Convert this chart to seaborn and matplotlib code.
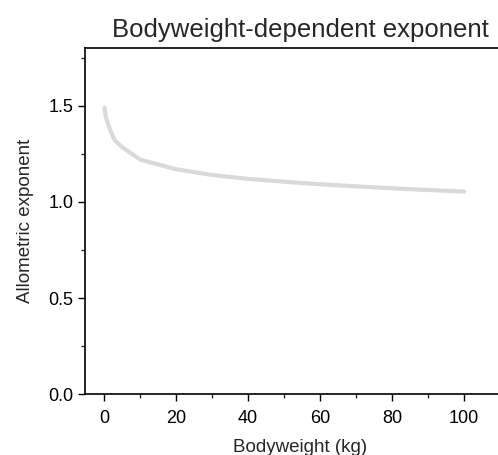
import pandas as pd
import matplotlib.pyplot as plt
import seaborn as sns
from matplotlib.ticker import MultipleLocator

# Values
bodyweight = [0.1, 0.5, 1, 2, 3, 5, 10, 20, 30, 40, 50, 60, 70, 80, 90, 100]
exponent = [1.49, 1.44, 1.41, 1.36, 1.32, 1.285, 1.22, 1.17, 1.14, 1.12, 1.105, 1.092, 1.081, 1.071, 1.062, 1.054]

df = pd.DataFrame({'Bodyweight (kg)': bodyweight, 'Allometric exponent': exponent})

sns.set_style('ticks')
plt.rcParams['font.family'] = ['Liberation Sans', 'DejaVu Sans']

fig = plt.figure(figsize=(4.98, 4.55), dpi=100)
# axes run past the right edge of the figure, as in the reference
ax = fig.add_axes([0.1707, 0.1334, 0.8655, 0.761])

sns.lineplot(data=df, x='Bodyweight (kg)', y='Allometric exponent', ax=ax,
             color='#d9d9d9', linewidth=3)

ax.set_xlim(-5.3, 114.4)
ax.set_ylim(0, 1.8)
ax.xaxis.set_major_locator(MultipleLocator(20))
ax.xaxis.set_minor_locator(MultipleLocator(10))
ax.yaxis.set_major_locator(MultipleLocator(0.5))
ax.yaxis.set_minor_locator(MultipleLocator(0.25))
ax.yaxis.set_major_formatter(plt.FormatStrFormatter('%.1f'))

for s in ax.spines.values():
    s.set_linewidth(1.2)
    s.set_color('black')
ax.tick_params(which='major', length=5, width=1, labelsize=13, colors='black')
ax.tick_params(which='minor', length=3, width=1)
ax.tick_params(axis='x', pad=6)

ax.set_xlabel('Bodyweight (kg)', fontsize=13.5, labelpad=9)
ax.set_ylabel('Allometric exponent', fontsize=13.5, labelpad=10)
ax.set_title('Bodyweight-dependent exponent', fontsize=18.5, pad=8)

fig.savefig('out.png', dpi=100)
